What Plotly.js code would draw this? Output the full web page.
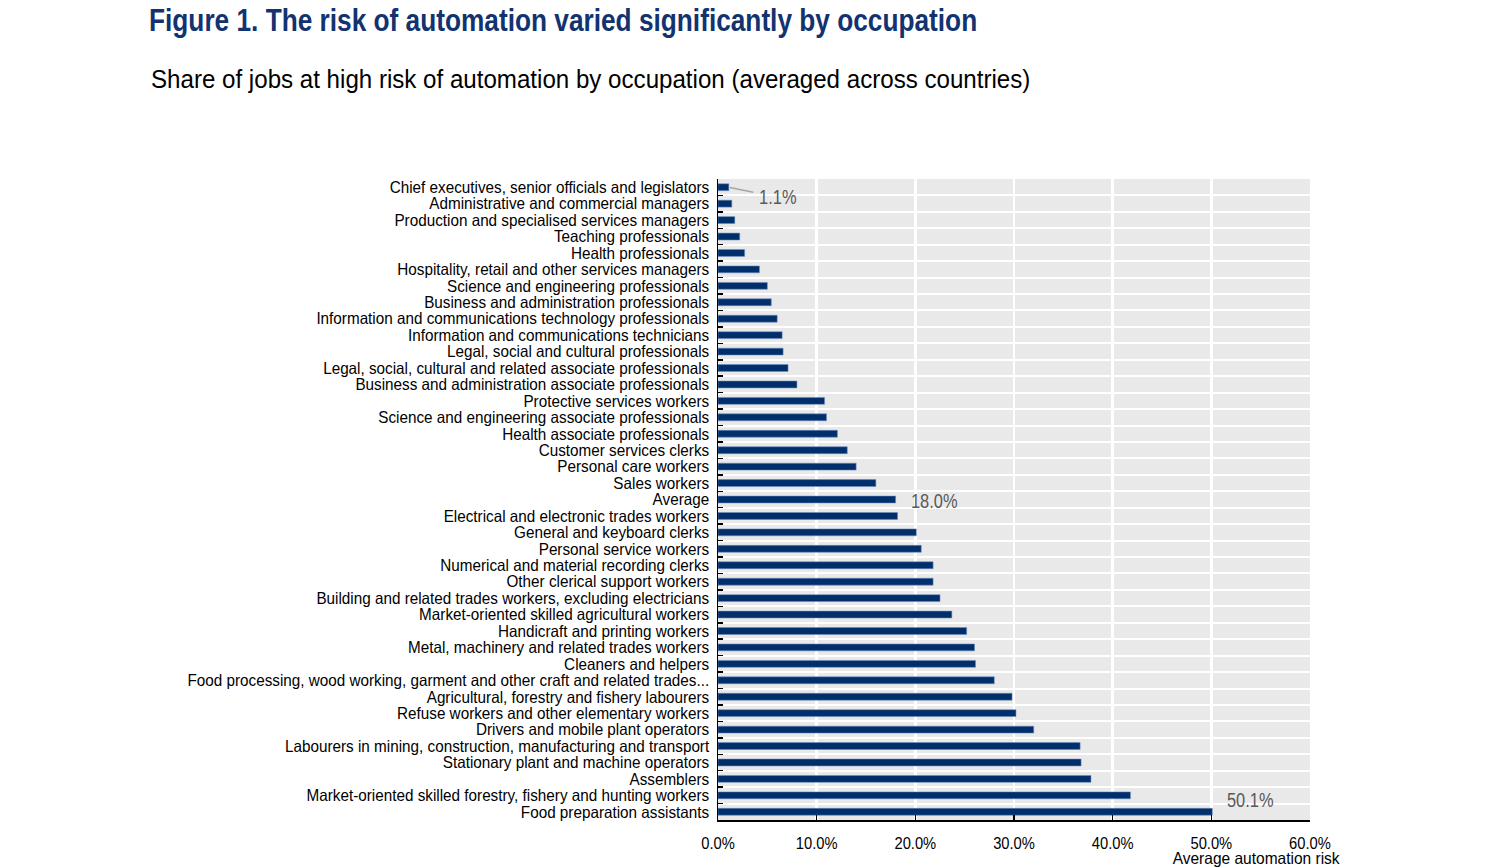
<!DOCTYPE html>
<html>
<head>
<meta charset="utf-8">
<script src="https://cdn.plot.ly/plotly-3.0.1.min.js"></script>
<style>
html,body{margin:0;padding:0;background:#fff;}
#chart{width:1502px;height:868px;}
</style>
</head>
<body>
<div id="chart"></div>
<script>
const occupations = [
  "Chief executives, senior officials and legislators",
  "Administrative and commercial managers",
  "Production and specialised services managers",
  "Teaching professionals",
  "Health professionals",
  "Hospitality, retail and other services managers",
  "Science and engineering professionals",
  "Business and administration professionals",
  "Information and communications technology professionals",
  "Information and communications technicians",
  "Legal, social and cultural professionals",
  "Legal, social, cultural and related associate professionals",
  "Business and administration associate professionals",
  "Protective services workers",
  "Science and engineering associate professionals",
  "Health associate professionals",
  "Customer services clerks",
  "Personal care workers",
  "Sales workers",
  "Average",
  "Electrical and electronic trades workers",
  "General and keyboard clerks",
  "Personal service workers",
  "Numerical and material recording clerks",
  "Other clerical support workers",
  "Building and related trades workers, excluding electricians",
  "Market-oriented skilled agricultural workers",
  "Handicraft and printing workers",
  "Metal, machinery and related trades workers",
  "Cleaners and helpers",
  "Food processing, wood working, garment and other craft and related trades...",
  "Agricultural, forestry and fishery labourers",
  "Refuse workers and other elementary workers",
  "Drivers and mobile plant operators",
  "Labourers in mining, construction, manufacturing and transport",
  "Stationary plant and machine operators",
  "Assemblers",
  "Market-oriented skilled forestry, fishery and hunting workers",
  "Food preparation assistants"
];
const riskShare = [
  1.1, 1.4, 1.7, 2.2, 2.7, 4.2, 5.0, 5.4, 6.0, 6.5, 6.6, 7.1, 8.0,
  10.8, 11.0, 12.1, 13.1, 14.0, 16.0, 18.0, 18.2, 20.1, 20.6, 21.8,
  21.8, 22.5, 23.7, 25.2, 26.0, 26.1, 28.0, 29.8, 30.2, 32.0, 36.7,
  36.8, 37.8, 41.8, 50.1
];
const xTickValues = [0, 10, 20, 30, 40, 50, 60];
const xTickLabels = xTickValues.map(v => v.toFixed(1) + "%");
const highlighted = ["Chief executives, senior officials and legislators", "Average", "Food preparation assistants"];

const FONT = "'Liberation Sans', Arial, sans-serif";
const val = name => riskShare[occupations.indexOf(name)];
const n = occupations.length;

const trace = {
  type: "bar",
  orientation: "h",
  x: riskShare,
  y: occupations,
  width: 0.42,
  marker: {color: "#002f6c", line: {color: "rgba(110,140,190,0.55)", width: 1}},
  hoverinfo: "x+y"
};

const annotations = [
  {
    xref: "paper", yref: "paper",
    x: (149 - 718) / 592, y: 1 + (179 - 79) / 641,
    xanchor: "left", yanchor: "middle",
    text: "Share of jobs at high risk of automation by occupation (averaged across countries)",
    showarrow: false,
    font: {family: FONT, size: 26.5, color: "#000"},
    _narrow: 0.91
  },
  {
    xref: "paper", yref: "paper",
    x: (1342 - 718) / 592, y: (820 - 858) / 641,
    xanchor: "right", yanchor: "middle",
    text: "Average automation risk",
    showarrow: false,
    font: {family: FONT, size: 16.5, color: "#000"},
    _narrow: 0.94
  },
  {
    x: val(highlighted[0]), y: highlighted[0],
    text: val(highlighted[0]).toFixed(1) + "%",
    showarrow: true, arrowhead: 0, arrowwidth: 1.5, arrowcolor: "#a6a6a6",
    ax: 49, ay: 10, standoff: 1,
    font: {family: FONT, size: 20, color: "#595959"},
    _narrow: 0.82
  },
  {
    x: val(highlighted[1]), y: highlighted[1],
    text: val(highlighted[1]).toFixed(1) + "%",
    showarrow: false, xanchor: "left", xshift: 13, yshift: -1,
    font: {family: FONT, size: 20, color: "#595959"},
    _narrow: 0.82
  },
  {
    x: val(highlighted[2]), y: highlighted[2],
    text: val(highlighted[2]).toFixed(1) + "%",
    showarrow: false, xanchor: "left", xshift: 13, yshift: 12,
    font: {family: FONT, size: 20, color: "#595959"},
    _narrow: 0.82
  }
];
const narrowFactors = annotations.map(a => a._narrow);
const annAnchors = annotations.map(a => a.xanchor || "center");
annotations.forEach(a => delete a._narrow);

const layout = {
  width: 1502,
  height: 868,
  margin: {l: 718, r: 192, t: 179, b: 48},
  paper_bgcolor: "#ffffff",
  plot_bgcolor: "#e9e9e9",
  showlegend: false,
  font: {family: FONT, size: 16, color: "#000"},
  title: {
    text: "Figure 1. The risk of automation varied significantly by occupation",
    font: {family: FONT, size: 32, color: "#12336f", weight: 700},
    xref: "container", x: 149/1502, xanchor: "left",
    yref: "container", y: 1 - 20/868, yanchor: "middle"
  },
  xaxis: {
    range: [0, 60],
    tickmode: "array",
    tickvals: xTickValues,
    ticktext: xTickLabels,
    ticks: "inside",
    ticklen: 5,
    tickwidth: 1.5,
    tickcolor: "#000",
    ticklabelstandoff: 8,
    showline: true,
    linecolor: "#000",
    linewidth: 1.5,
    showgrid: true,
    gridcolor: "#ffffff",
    gridwidth: 2.5,
    zeroline: false,
    tickfont: {family: FONT, size: 16, color: "#000"},
    fixedrange: true
  },
  yaxis: {
    type: "category",
    range: [n - 0.5, -0.5],
    autorange: false,
    tickmode: "array",
    tickvals: occupations,
    ticktext: occupations,
    tickson: "boundaries",
    ticks: "inside",
    ticklen: 5,
    tickwidth: 1.5,
    tickcolor: "#000",
    showline: true,
    linecolor: "#000",
    linewidth: 1.5,
    showgrid: true,
    gridcolor: "#ffffff",
    gridwidth: 2,
    zeroline: false,
    ticklabelstandoff: 4,
    tickfont: {family: FONT, size: 16.5, color: "#000"},
    fixedrange: true
  },
  annotations: annotations
};

function squeeze(t, f, anchor) {
  const w = t.getComputedTextLength();
  if (!(w > 0)) return;
  t.setAttribute("textLength", (w * f).toFixed(2));
  t.setAttribute("lengthAdjust", "spacingAndGlyphs");
  let dx = 0;
  if (anchor === "left") dx = -(w - w * f) / 2;
  if (anchor === "right") dx = (w - w * f) / 2;
  if (dx !== 0) {
    const nodes = [t].concat(Array.from(t.querySelectorAll("tspan[x]")));
    nodes.forEach(el => {
      const x = parseFloat(el.getAttribute("x"));
      if (!isNaN(x)) el.setAttribute("x", (x + dx).toFixed(2));
    });
  }
}

function narrowText() {
  const root = document.getElementById("chart");
  root.querySelectorAll(".ytick text").forEach(t => squeeze(t, 0.925, "none"));
  root.querySelectorAll(".xtick text").forEach(t => squeeze(t, 0.92, "none"));
  root.querySelectorAll(".gtitle").forEach(t => squeeze(t, 0.82, "none"));
  root.querySelectorAll("g.annotation").forEach(g => {
    const i = parseInt(g.getAttribute("data-index"), 10);
    const t = g.querySelector("text");
    if (t && !isNaN(i)) squeeze(t, narrowFactors[i], annAnchors[i]);
  });
}

Plotly.newPlot("chart", [trace], layout, {displayModeBar: false, staticPlot: true}).then(narrowText);
</script>
</body>
</html>
